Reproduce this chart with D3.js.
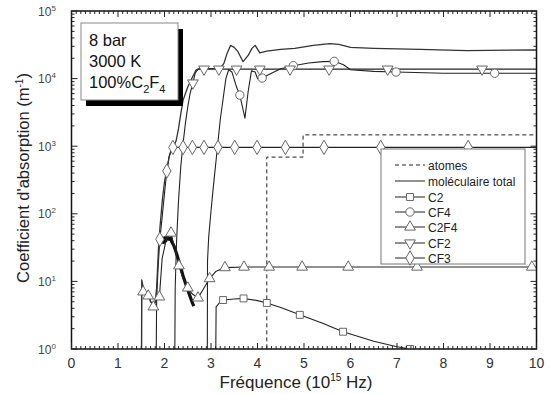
<!DOCTYPE html>
<html><head><meta charset="utf-8">
<script src="https://cdn.jsdelivr.net/npm/d3@7"></script>
<style>body{margin:0;background:#fff}svg{display:block;font-family:Arial,"Liberation Sans",sans-serif}</style>
</head><body><svg id="c" width="551" height="394"></svg>
<script>
// ---------- data ----------
const xTicks = [0,1,2,3,4,5,6,7,8,9,10];
const yTicks = [1,10,100,1000,10000,100000];
const yTickExp = ["0","1","2","3","4","5"];
const legendLabels = ["atomes","moléculaire total","C2","CF4","C2F4","CF2","CF3"];
const infoLines = ["8 bar","3000 K"];

const atomF = [4.2,4.2,4.98,4.98,10];
const atomV = [0.5,690,690,1470,1470];

const totalF = [1.505,1.51,1.53,1.56,1.6,1.65,1.7,1.76,1.8,1.83,1.87,1.9,1.95,2.0,2.05,2.1,2.15,2.2,2.25,2.3,2.35,2.4,2.5,2.6,2.68,2.75,3.0,3.2,3.28,3.35,3.42,3.5,3.58,3.69,3.8,3.88,3.95,4.05,4.2,4.5,4.8,5.2,5.55,5.75,6.0,6.5,7.5,8.5,10];
const totalV = [0.5,10.5,9,7.5,6.8,6.3,5,4.6,5,8,30,60,150,300,450,700,900,1000,1200,1800,3000,4800,7500,10500,13500,14000,14000,14200,17000,24000,31000,29000,25000,17800,22000,28000,31000,24000,25500,27000,28000,31000,33000,32000,29000,28000,27000,26000,26500];

const c2F = [3.1,3.11,3.2,3.26,3.5,3.7,4.0,4.2,4.5,4.91,5.4,5.84,6.5,7.0,7.28,7.5];
const c2V = [0.5,4.2,5.0,5.3,5.5,5.6,5.2,4.8,4.1,3.2,2.4,1.8,1.3,1.08,1.0,0.95];
const c2Marks = [3.26,3.7,4.2,4.91,5.84,7.28];
const c2bF = [1.97,2.0,2.03,2.06,2.1,2.13,2.16,2.2,2.25,2.3,2.35,2.4,2.45,2.5,2.55,2.6,2.63];
const c2bV = [36,44,40,46,42,44,38,34,27,21,16,12,9.5,7.5,6,4.8,4.3];

const cf4F = [2.92,2.925,2.95,3.0,3.05,3.13,3.2,3.26,3.32,3.38,3.45,3.55,3.62,3.73,3.8,3.87,3.95,4.0,4.1,4.3,4.5,4.77,5.1,5.4,5.65,5.85,6.0,6.5,6.98,8.0,9.1,10];
const cf4V = [0.5,20,45,110,250,850,2500,5000,10000,13500,12500,7500,5700,2600,6500,13000,12500,10000,10200,12000,14000,15500,17000,17800,18000,16000,13500,12800,12500,12000,12000,12000];
const cf4Marks = [3.62,4.1,4.77,5.65,6.98,9.1];

const c2f4F = [1.505,1.51,1.54,1.6,1.65,1.72,1.76,1.82,1.89,1.95,2.05,2.14,2.2,2.31,2.4,2.5,2.6,2.72,2.85,2.97,3.1,3.3,3.71,4.25,4.96,5.95,7.43,9.9,10];
const c2f4V = [0.5,8,7,6.3,6.1,4.8,4.2,5.2,5.9,22,45,52,35,17,11,8,6.5,5.7,8,11,14,16,16.3,16.3,16.3,16.3,16.3,16.3,16.3];
const c2f4Marks = [1.54,1.65,1.76,1.89,2.14,2.31,2.5,2.72,2.97,3.3,3.71,4.25,4.96,5.95,7.43,9.9];

const cf2F = [2.22,2.23,2.26,2.3,2.35,2.4,2.45,2.5,2.55,2.61,2.66,2.72,2.85,3.17,3.55,4.05,4.7,5.54,6.8,8.83,10];
const cf2V = [0.5,8,40,150,500,1100,2200,3800,6000,8600,12000,13800,13800,13800,13800,13800,13800,13800,13800,13800,13800];
const cf2Marks = [2.61,2.85,3.17,3.55,4.05,4.7,5.54,6.8,8.83];

const cf3F = [1.82,1.83,1.86,1.9,1.95,2.0,2.05,2.1,2.15,2.18,2.4,2.6,2.85,3.15,3.51,3.99,4.6,5.43,6.65,8.53,10];
const cf3V = [0.5,5,15,42,90,200,430,700,900,960,960,960,960,960,960,960,960,960,960,960,960];
const cf3Marks = [1.9,2.05,2.18,2.4,2.6,2.85,3.15,3.51,3.99,4.6,5.43,6.65,8.53];

// ---------- layout ----------
const L = 71.5, R = 536.5, T = 11, B = 349;
const svg = d3.select("#c");
const x = d3.scaleLinear().domain([0,10]).range([L,R]);
const y = d3.scaleLog().domain([1,1e5]).range([B,T]);
const ink = "#222", mk = "#666";

svg.append("clipPath").attr("id","clip").append("rect")
  .attr("x",L).attr("y",T).attr("width",R-L).attr("height",B-T);
const plot = svg.append("g").attr("clip-path","url(#clip)");

const line = d3.line().x(d=>x(d[0])).y(d=>y(d[1]));
const zip = (F,V)=>F.map((f,i)=>[f,V[i]]);

function drawLine(F,V,opt={}){
  plot.append("path").datum(zip(F,V)).attr("d",line)
    .attr("fill","none").attr("stroke",opt.color||ink)
    .attr("stroke-width",opt.w||1.1)
    .attr("stroke-dasharray",opt.dash||null)
    .attr("stroke-linejoin","round");
}
const triDown = {draw(ctx,size){const s=Math.sqrt(size/ (Math.sqrt(3)/4)); const h=s*Math.sqrt(3)/2;
  ctx.moveTo(-s/2,-h/3); ctx.lineTo(s/2,-h/3); ctx.lineTo(0,2*h/3); ctx.closePath();}};
const triUp = {draw(ctx,size){const s=Math.sqrt(size/ (Math.sqrt(3)/4)); const h=s*Math.sqrt(3)/2;
  ctx.moveTo(-s/2,h/3); ctx.lineTo(s/2,h/3); ctx.lineTo(0,-2*h/3); ctx.closePath();}};
const symbols = {
  C2: d3.symbol(d3.symbolSquare,48),
  CF4: d3.symbol(d3.symbolCircle,55),
  C2F4: d3.symbol(triUp,50),
  CF2: d3.symbol(triDown,50),
  CF3: d3.symbol(d3.symbolDiamond,60)
};
function drawMarks(F,V,marks,sym,g){
  const pts = zip(F,V).filter(d=>marks.includes(d[0]));
  (g||plot).selectAll(null).data(pts).enter().append("path")
    .attr("d",sym()).attr("transform",d=>`translate(${x(d[0])},${y(d[1])})`)
    .attr("fill","#fff").attr("stroke",mk).attr("stroke-width",1);
}

drawLine(atomF,atomV,{dash:"4,3",w:1});
drawLine(c2bF,c2bV,{w:3.2,color:"#111"});
drawLine(c2F,c2V);
drawLine(c2f4F,c2f4V);
drawLine(cf3F,cf3V);
drawLine(cf4F,cf4V);
drawLine(cf2F,cf2V);
drawLine(totalF,totalV,{w:1.3,color:"#333"});
drawMarks(c2F,c2V,c2Marks,symbols.C2);
drawMarks(c2f4F,c2f4V,c2f4Marks,symbols.C2F4);
drawMarks(cf3F,cf3V,cf3Marks,symbols.CF3);
drawMarks(cf4F,cf4V,cf4Marks,symbols.CF4);
drawMarks(cf2F,cf2V,cf2Marks,symbols.CF2);

// ---------- frame & ticks ----------
svg.append("rect").attr("x",L).attr("y",T).attr("width",R-L).attr("height",B-T)
  .attr("fill","none").attr("stroke","#111").attr("stroke-width",1.5);
const tg = svg.append("g").attr("stroke","#222").attr("stroke-width",1);
const minorX = d3.range(0,100).map(i=>i/10).filter(v=>v%1!==0);
xTicks.forEach(v=>{
  tg.append("line").attr("x1",x(v)).attr("x2",x(v)).attr("y1",B).attr("y2",B-6);
  tg.append("line").attr("x1",x(v)).attr("x2",x(v)).attr("y1",T).attr("y2",T+6);
});
minorX.forEach(v=>{
  tg.append("line").attr("x1",x(v)).attr("x2",x(v)).attr("y1",B).attr("y2",B-3);
  tg.append("line").attr("x1",x(v)).attr("x2",x(v)).attr("y1",T).attr("y2",T+3);
});
yTicks.forEach((v,i)=>{
  tg.append("line").attr("x1",L).attr("x2",L+6).attr("y1",y(v)).attr("y2",y(v));
  tg.append("line").attr("x1",R).attr("x2",R-6).attr("y1",y(v)).attr("y2",y(v));
  if(i<yTicks.length-1) d3.range(2,10).forEach(m=>{
    tg.append("line").attr("x1",L).attr("x2",L+3).attr("y1",y(v*m)).attr("y2",y(v*m));
    tg.append("line").attr("x1",R).attr("x2",R-3).attr("y1",y(v*m)).attr("y2",y(v*m));
  });
});
svg.selectAll(null).data(xTicks).enter().append("text")
  .attr("x",d=>x(d)).attr("y",368).attr("text-anchor","middle")
  .attr("font-size",14).attr("fill","#333").text(d=>d);
yTicks.forEach((v,i)=>{
  const t = svg.append("text").attr("x",47).attr("y",y(v)+4.5)
    .attr("text-anchor","middle").attr("font-size",12).attr("fill","#444");
  t.append("tspan").text("10");
  t.append("tspan").attr("dy",-5).attr("font-size",8).text(yTickExp[i]);
});

// axis titles
const xt = svg.append("text").attr("x",296).attr("y",388).attr("text-anchor","middle")
  .attr("font-size",17).attr("fill","#222");
xt.append("tspan").text("Fréquence (10");
xt.append("tspan").attr("dy",-7).attr("font-size",10).text("15");
xt.append("tspan").attr("dy",7).text(" Hz)");
const yt = svg.append("text").attr("transform","translate(29,178) rotate(-90)")
  .attr("text-anchor","middle").attr("font-size",16.5).attr("fill","#222");
yt.append("tspan").text("Coefficient d'absorption  (m");
yt.append("tspan").attr("dy",-6).attr("font-size",10).text("-1");
yt.append("tspan").attr("dy",6).text(")");

// ---------- info box ----------
svg.append("rect").attr("x",86).attr("y",29).attr("width",97).attr("height",77).attr("fill","#000");
svg.append("rect").attr("x",81).attr("y",23).attr("width",97).attr("height",77)
  .attr("fill","#fff").attr("stroke","#888").attr("stroke-width",1);
infoLines.forEach((s,i)=>svg.append("text").attr("x",89).attr("y",46+i*21)
  .attr("font-size",16.5).attr("fill","#111").text(s));
const it = svg.append("text").attr("x",89).attr("y",88).attr("font-size",16.5).attr("fill","#111");
it.append("tspan").text("100%C");
it.append("tspan").attr("dy",5).attr("font-size",11).text("2");
it.append("tspan").attr("dy",-5).text("F");
it.append("tspan").attr("dy",5).attr("font-size",11).text("4");

// ---------- legend ----------
const lg = svg.append("g");
lg.append("rect").attr("x",381).attr("y",149).attr("width",144).attr("height",115)
  .attr("fill","#fff").attr("stroke","#777").attr("stroke-width",1);
const legY = [165,181,197,212,227,243,258];
const legSym = [null,null,symbols.C2,symbols.CF4,symbols.C2F4,symbols.CF2,symbols.CF3];
legendLabels.forEach((s,i)=>{
  lg.append("line").attr("x1",395).attr("x2",425).attr("y1",legY[i]).attr("y2",legY[i])
    .attr("stroke",ink).attr("stroke-width",1).attr("stroke-dasharray",i===0?"4,3":null);
  if(legSym[i]) lg.append("path").attr("d",legSym[i]()).attr("transform",`translate(410,${legY[i]})`)
    .attr("fill","#fff").attr("stroke",mk);
  lg.append("text").attr("x",428).attr("y",legY[i]+4.5).attr("font-size",12).attr("fill","#222").text(s);
});
</script></body></html>
